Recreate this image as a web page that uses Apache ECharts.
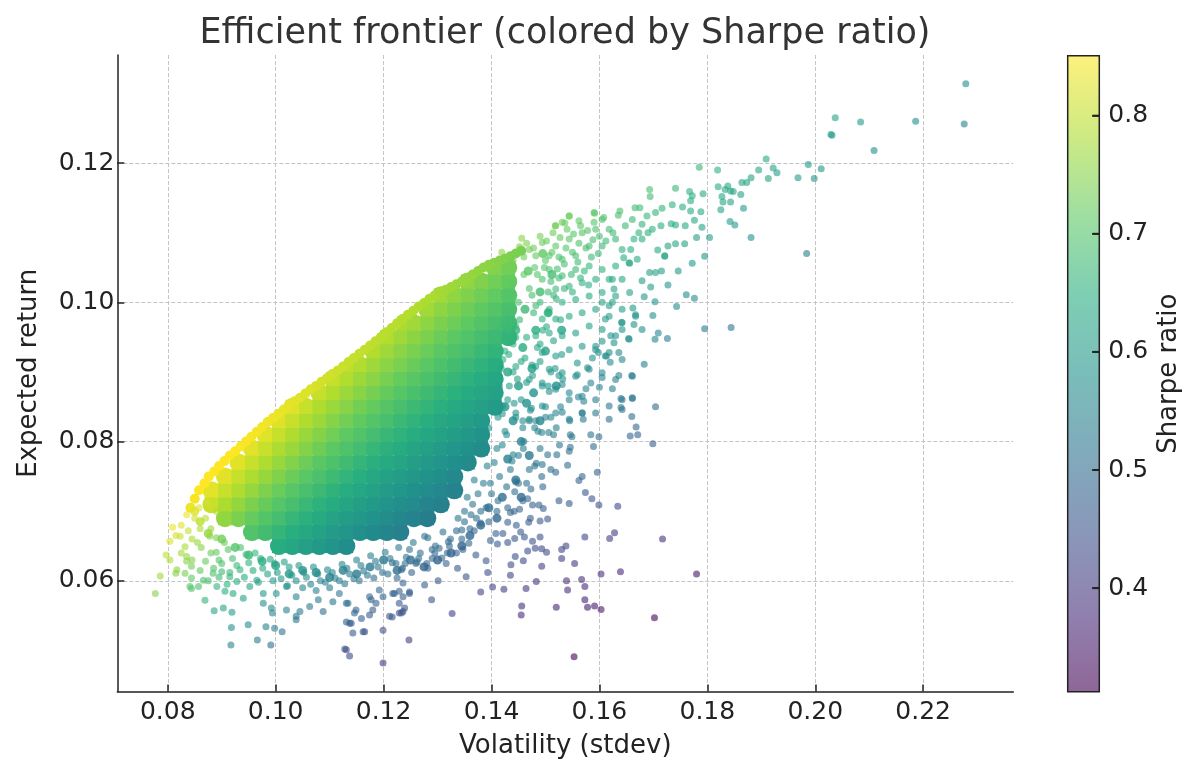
<!DOCTYPE html>
<html lang="en">
<head>
<meta charset="UTF-8">
<title>Efficient frontier</title>
<style>
  html, body { margin: 0; padding: 0; background: #fff; }
  #main { width: 1200px; height: 776px; }
</style>
</head>
<body>
<div id="main"></div>
<script src="https://cdn.jsdelivr.net/npm/echarts@6/dist/echarts.min.js"></script>
<script>
// axis ticks
const volTicks = [0.08, 0.10, 0.12, 0.14, 0.16, 0.18, 0.20, 0.22];
const retTicks = [0.06, 0.08, 0.10, 0.12];
const sharpeTicks = [0.4, 0.5, 0.6, 0.7, 0.8];
const sharpeMin = 0.3123;
const sharpeMax = 0.8508;

// dense core of the cloud: [expected return, [volatility, ...]]
const coreRows = [
  [0.065, [0.1006, 0.1031, 0.1056, 0.1081, 0.1106, 0.1131]],
  [0.067, [0.0956, 0.0981, 0.1006, 0.1031, 0.1056, 0.1081, 0.1106, 0.1131, 0.1156, 0.1181, 0.1206, 0.1231]],
  [0.069, [0.0906, 0.0931, 0.0956, 0.0981, 0.1006, 0.1031, 0.1056, 0.1081, 0.1106, 0.1131, 0.1156, 0.1181, 0.1206, 0.1231, 0.1256, 0.1281]],
  [0.071, [0.0881, 0.0906, 0.0931, 0.0956, 0.0981, 0.1006, 0.1031, 0.1056, 0.1081, 0.1106, 0.1131, 0.1156, 0.1181, 0.1206, 0.1231, 0.1256, 0.1281, 0.1306]],
  [0.073, [0.0881, 0.0906, 0.0931, 0.0956, 0.0981, 0.1006, 0.1031, 0.1056, 0.1081, 0.1106, 0.1131, 0.1156, 0.1181, 0.1206, 0.1231, 0.1256, 0.1281, 0.1306, 0.1331]],
  [0.075, [0.0906, 0.0931, 0.0956, 0.0981, 0.1006, 0.1031, 0.1056, 0.1081, 0.1106, 0.1131, 0.1156, 0.1181, 0.1206, 0.1231, 0.1256, 0.1281, 0.1306, 0.1331]],
  [0.077, [0.0931, 0.0956, 0.0981, 0.1006, 0.1031, 0.1056, 0.1081, 0.1106, 0.1131, 0.1156, 0.1181, 0.1206, 0.1231, 0.1256, 0.1281, 0.1306, 0.1331, 0.1356]],
  [0.079, [0.0956, 0.0981, 0.1006, 0.1031, 0.1056, 0.1081, 0.1106, 0.1131, 0.1156, 0.1181, 0.1206, 0.1231, 0.1256, 0.1281, 0.1306, 0.1331, 0.1356, 0.1381]],
  [0.081, [0.0981, 0.1006, 0.1031, 0.1056, 0.1081, 0.1106, 0.1131, 0.1156, 0.1181, 0.1206, 0.1231, 0.1256, 0.1281, 0.1306, 0.1331, 0.1356, 0.1381]],
  [0.083, [0.1006, 0.1031, 0.1056, 0.1081, 0.1106, 0.1131, 0.1156, 0.1181, 0.1206, 0.1231, 0.1256, 0.1281, 0.1306, 0.1331, 0.1356, 0.1381]],
  [0.085, [0.1031, 0.1056, 0.1081, 0.1106, 0.1131, 0.1156, 0.1181, 0.1206, 0.1231, 0.1256, 0.1281, 0.1306, 0.1331, 0.1356, 0.1381, 0.1406]],
  [0.087, [0.1081, 0.1106, 0.1131, 0.1156, 0.1181, 0.1206, 0.1231, 0.1256, 0.1281, 0.1306, 0.1331, 0.1356, 0.1381, 0.1406]],
  [0.089, [0.1106, 0.1131, 0.1156, 0.1181, 0.1206, 0.1231, 0.1256, 0.1281, 0.1306, 0.1331, 0.1356, 0.1381, 0.1406]],
  [0.091, [0.1141, 0.1156, 0.1181, 0.1206, 0.1231, 0.1256, 0.1281, 0.1306, 0.1331, 0.1356, 0.1381, 0.1406]],
  [0.093, [0.1181, 0.1206, 0.1231, 0.1256, 0.1281, 0.1306, 0.1331, 0.1356, 0.1381, 0.1406]],
  [0.095, [0.1206, 0.1231, 0.1256, 0.1281, 0.1306, 0.1331, 0.1356, 0.1381, 0.1406, 0.1431]],
  [0.097, [0.1238, 0.1256, 0.1281, 0.1306, 0.1331, 0.1356, 0.1381, 0.1406, 0.1431]],
  [0.099, [0.1281, 0.1306, 0.1331, 0.1356, 0.1381, 0.1406, 0.1431]],
  [0.101, [0.1306, 0.1331, 0.1356, 0.1381, 0.1406, 0.1431]],
  [0.103, [0.1356, 0.1381, 0.1406, 0.1431]],
  [0.105, [0.1406, 0.1431]]
];

// upper-left edge of the cloud: [volatility, expected return]
const frontierEdge = [
  [0.0842,0.0705],[0.0850,0.0718],[0.0858,0.0730],[0.0868,0.0740],[0.0876,0.0750],[0.0886,0.0757],
  [0.0895,0.0765],[0.0905,0.0772],[0.0915,0.0780],[0.0925,0.0786],[0.0935,0.0793],[0.0945,0.0800],
  [0.0955,0.0807],[0.0965,0.0814],[0.0975,0.0821],[0.0985,0.0828],[0.0995,0.0834],[0.1005,0.0840],
  [0.1015,0.0846],[0.1025,0.0852],[0.1035,0.0858],[0.1045,0.0863],[0.1055,0.0869],[0.1065,0.0875],
  [0.1075,0.0880],[0.1085,0.0886],[0.1095,0.0891],[0.1105,0.0897],[0.1115,0.0902],[0.1125,0.0908],
  [0.1135,0.0914],[0.1145,0.0920],[0.1155,0.0926],[0.1165,0.0932],[0.1175,0.0938],[0.1185,0.0944],
  [0.1195,0.0950],[0.1205,0.0957],[0.1215,0.0963],[0.1225,0.0970],[0.1235,0.0976],[0.1245,0.0982],
  [0.1255,0.0988],[0.1265,0.0994],[0.1275,0.0999],[0.1285,0.1005],[0.1295,0.1010],[0.1305,0.1014],
  [0.1315,0.1018],[0.1325,0.1022],[0.1335,0.1026],[0.1345,0.1030],[0.1355,0.1035],[0.1365,0.1040],
  [0.1375,0.1045],[0.1385,0.1050],[0.1395,0.1054],[0.1405,0.1057],[0.1415,0.1060],[0.1425,0.1063],
  [0.1435,0.1066],[0.1445,0.1070],[0.1455,0.1074]
];

// half-dense fringe around the core
const fringe = [
  [0.1420,0.0720],[0.1445,0.0745],[0.1430,0.0775],[0.1455,0.0800],[0.1440,0.0830],[0.1465,0.0855],
  [0.1450,0.0880],[0.1475,0.0905],[0.1458,0.0935],[0.1482,0.0960],[0.1462,0.0990],[0.1490,0.1015],
  [0.1468,0.1045],[0.1495,0.1070],[0.1478,0.0870],[0.1490,0.0830],[0.1500,0.0930],[0.1505,0.0985],
  [0.1410,0.0690],[0.1395,0.0705],[0.1380,0.0680],[0.1360,0.0665],[0.1345,0.0650],[0.1325,0.0640],
  [0.1300,0.0630],[0.1275,0.0620],[0.1250,0.0630],[0.1225,0.0615],[0.1200,0.0630],[0.1175,0.0620],
  [0.1150,0.0610],[0.1125,0.0615],[0.1100,0.0605],[0.1075,0.0612],[0.1050,0.0615],[0.1025,0.0610],
  [0.1000,0.0622],[0.0975,0.0628],[0.0950,0.0637],[0.0925,0.0648],[0.0900,0.0660],[0.0875,0.0668],
  [0.0860,0.0685],[0.0850,0.0700],[0.1512,0.1040],[0.1520,0.0880],[0.1530,0.0960],[0.1455,0.0720],
  [0.1470,0.0780],[0.1435,0.1010],[0.1445,0.0960],[0.1430,0.0900],[0.1425,0.0850]
];

// single portfolios, upper-right tail
const upperTail = [
  [0.2279,0.1314],[0.2037,0.1265],[0.2084,0.1259],[0.2186,0.1260],[0.2276,0.1256],[0.2031,0.1240],
  [0.2029,0.1241],[0.2109,0.1218],[0.1909,0.1206],[0.1785,0.1194],[0.1819,0.1190],[0.1987,0.1198],
  [0.2011,0.1192],[0.1922,0.1193],[0.1929,0.1186],[0.1895,0.1190],[0.1913,0.1178],[0.1968,0.1179],
  [0.1998,0.1178],[0.1881,0.1179],[0.1873,0.1172],[0.1864,0.1172],[0.1820,0.1166],[0.1838,0.1167],
  [0.1843,0.1160],[0.1848,0.1159],[0.1833,0.1162],[0.1862,0.1155],[0.1827,0.1152],[0.1829,0.1144],
  [0.1843,0.1144],[0.1825,0.1133],[0.1867,0.1135],[0.1842,0.1116],[0.1851,0.1111],[0.1881,0.1093],
  [0.1984,0.1070],[0.1795,0.1066],[0.1772,0.1056],[0.1804,0.1093],[0.1780,0.1093],[0.1790,0.1108],
  [0.1776,0.1118],[0.1788,0.1130],[0.1769,0.1131],[0.1792,0.1156],[0.1767,0.1159],[0.1772,0.1153],
  [0.1741,0.1164],[0.1758,0.1084],[0.1741,0.1084],[0.1727,0.1025],[0.1761,0.1011],[0.1776,0.1006],
  [0.1743,0.0994],[0.1795,0.0962],[0.1844,0.0964],[0.1709,0.0956],[0.1703,0.0947],[0.1726,0.0948],
  [0.1699,0.0981],[0.1746,0.1045],[0.1721,0.1066],[0.1703,0.1001],[0.1683,0.1008],[0.1695,0.1022],
  [0.1679,0.1031],[0.1715,0.1045],[0.1704,0.1043],[0.1693,0.1043],[0.1662,0.0992],[0.1667,0.0982],
  [0.1664,0.0968],[0.1654,0.0948],[0.1642,0.0971],[0.1636,0.0928],[0.1759,0.1110],[0.1741,0.1111],
  [0.1733,0.1113],[0.1714,0.1110],[0.1754,0.1137],[0.1769,0.1146],[0.1735,0.1140],[0.1716,0.1135],
  [0.1704,0.1129],[0.1693,0.1162],[0.1694,0.1152],[0.1666,0.1136],[0.1675,0.1136],[0.1638,0.1131],
  [0.1635,0.1125],[0.1591,0.1128],[0.1608,0.1122],[0.1544,0.1124],[0.1536,0.1114],[0.1518,0.1110],
  [0.1456,0.1092],[0.1419,0.1072],[0.1624,0.1033],[0.1627,0.1019],[0.1656,0.1014],[0.1605,0.1000],
  [0.1624,0.1000],[0.1611,0.0976],[0.1618,0.0980],[0.1641,0.0971],[0.1642,0.0961],[0.1621,0.0952],
  [0.1627,0.0942],[0.1605,0.0944],[0.1593,0.0937],[0.1611,0.0923],[0.1645,0.1064],[0.1656,0.1056],
  [0.1670,0.1062],[0.1642,0.1076],[0.1658,0.1076],[0.1664,0.1091],[0.1679,0.1091],[0.1673,0.1100],
  [0.1690,0.1100],[0.1698,0.1105],[0.1708,0.1075],[0.1721,0.1067],[0.1727,0.1081],[0.1648,0.1110],
  [0.1661,0.1119],[0.1679,0.1112],[0.1688,0.1124]
];

// single portfolios, right of the core
const rightSpread = [
  [0.1519,0.1110],[0.1544,0.1124],[0.1531,0.1115],[0.1562,0.1117],[0.1590,0.1129],[0.1605,0.1119],
  [0.1618,0.1105],[0.1593,0.1105],[0.1568,0.1100],[0.1544,0.1091],[0.1519,0.1081],[0.1494,0.1086],
  [0.1470,0.1076],[0.1482,0.1067],[0.1507,0.1067],[0.1531,0.1062],[0.1556,0.1067],[0.1581,0.1081],
  [0.1605,0.1081],[0.1630,0.1091],[0.1655,0.1057],[0.1630,0.1052],[0.1605,0.1047],[0.1581,0.1052],
  [0.1556,0.1047],[0.1531,0.1038],[0.1507,0.1047],[0.1494,0.1033],[0.1519,0.1019],[0.1544,0.1023],
  [0.1568,0.1028],[0.1593,0.1033],[0.1618,0.1033],[0.1642,0.1033],[0.1630,0.1009],[0.1605,0.1014],
  [0.1581,0.1009],[0.1556,0.1004],[0.1531,0.1000],[0.1507,0.0990],[0.1482,0.0995],[0.1494,0.0976],
  [0.1519,0.0976],[0.1544,0.0980],[0.1568,0.0985],[0.1593,0.0990],[0.1618,0.0995],[0.1642,0.0990],
  [0.1667,0.0980],[0.1679,0.0961],[0.1655,0.0947],[0.1630,0.0952],[0.1605,0.0961],[0.1581,0.0966],
  [0.1556,0.0956],[0.1531,0.0952],[0.1507,0.0956],[0.1482,0.0952],[0.1494,0.0928],[0.1519,0.0923],
  [0.1544,0.0932],[0.1568,0.0937],[0.1593,0.0932],[0.1618,0.0928],[0.1642,0.0918],[0.1661,0.0894],
  [0.1630,0.0889],[0.1605,0.0899],[0.1581,0.0904],[0.1556,0.0894],[0.1531,0.0899],[0.1507,0.0904],
  [0.1482,0.0908],[0.1470,0.0889],[0.1494,0.0880],[0.1519,0.0875],[0.1544,0.0870],[0.1568,0.0865],
  [0.1593,0.0860],[0.1618,0.0851],[0.1642,0.0860],[0.1661,0.0863],[0.1642,0.0846],[0.1618,0.0832],
  [0.1593,0.0841],[0.1568,0.0841],[0.1544,0.0832],[0.1519,0.0841],[0.1494,0.0851],[0.1470,0.0832],
  [0.1445,0.0841],[0.1421,0.0851],[0.1408,0.0870],[0.1433,0.0880],[0.1445,0.0908],[0.1421,0.0918],
  [0.1408,0.0937],[0.1433,0.0947],[0.1445,0.0966],[0.1421,0.0976],[0.1408,0.0956]
];

// single portfolios, upper band just right of the core
const upperBand = [
  [0.1465,0.1085],[0.1478,0.1078],[0.1490,0.1095],[0.1502,0.1088],[0.1514,0.1100],[0.1527,0.1093],
  [0.1540,0.1105],[0.1552,0.1098],[0.1565,0.1110],[0.1578,0.1103],[0.1590,0.1115],[0.1500,0.1060],
  [0.1512,0.1072],[0.1525,0.1065],[0.1538,0.1078],[0.1550,0.1072],[0.1562,0.1085],[0.1575,0.1078],
  [0.1588,0.1090],[0.1600,0.1095],[0.1485,0.1040],[0.1498,0.1050],[0.1510,0.1030],[0.1522,0.1048],
  [0.1535,0.1055],[0.1548,0.1040],[0.1560,0.1058],[0.1572,0.1045],[0.1585,0.1065],[0.1598,0.1070],
  [0.1475,0.1010],[0.1490,0.1000],[0.1505,0.1015],[0.1520,0.1005],[0.1535,0.1020],[0.1550,0.1015],
  [0.1565,0.1035],[0.1580,0.1025],[0.1612,0.1088],[0.1625,0.1100],[0.1460,0.1065],[0.1452,0.1080]
];

// single portfolios, band right of the core
const rightBand = [
  [0.1415,0.0960],[0.1428,0.0985],[0.1440,0.0940],[0.1452,0.0975],[0.1465,0.0950],[0.1478,0.0985],
  [0.1490,0.0940],[0.1502,0.0965],[0.1515,0.0945],[0.1528,0.0975],[0.1418,0.0905],[0.1432,0.0925],
  [0.1448,0.0890],[0.1462,0.0920],[0.1476,0.0895],[0.1490,0.0915],[0.1505,0.0880],[0.1518,0.0905],
  [0.1532,0.0890],[0.1412,0.0835],[0.1428,0.0810],[0.1442,0.0855],[0.1458,0.0820],[0.1472,0.0845],
  [0.1486,0.0815],[0.1500,0.0835],[0.1515,0.0810],[0.1528,0.0850],[0.1405,0.0770],[0.1420,0.0795],
  [0.1435,0.0760],[0.1450,0.0780],[0.1465,0.0740],[0.1480,0.0765],[0.1495,0.0735],[0.1510,0.0760],
  [0.1398,0.0740],[0.1412,0.0715],[0.1428,0.0735],[0.1442,0.0700],[0.1458,0.0715],[0.1472,0.0690],
  [0.1390,0.0705],[0.1375,0.0725],[0.1362,0.0695],[0.1350,0.0685],[0.1335,0.0672],[0.1368,0.0672]
];

// single portfolios, band under the core
const bottomBand = [
  [0.0880,0.0640],[0.0895,0.0630],[0.0912,0.0645],[0.0928,0.0622],[0.0945,0.0638],[0.0958,0.0615],
  [0.0972,0.0632],[0.0985,0.0610],[0.0998,0.0625],[0.1010,0.0603],[0.1025,0.0620],[0.1038,0.0600],
  [0.1052,0.0612],[0.1065,0.0595],[0.1078,0.0610],[0.1092,0.0598],[0.1105,0.0612],[0.1118,0.0600],
  [0.1132,0.0618],[0.1145,0.0603],[0.1158,0.0622],[0.1170,0.0608],[0.1185,0.0628],[0.1198,0.0612],
  [0.1212,0.0632],[0.1225,0.0604],[0.1240,0.0625],[0.1252,0.0612],[0.1265,0.0632],[0.1280,0.0625],
  [0.1295,0.0640],[0.1308,0.0633],[0.1322,0.0650],[0.1335,0.0640]
];

// single portfolios, lower-right of the core
const lowerSpread = [
  [0.1683,0.0911],[0.1613,0.0923],[0.1620,0.0914],[0.1598,0.0928],[0.1636,0.0895],[0.1660,0.0895],
  [0.1605,0.0892],[0.1624,0.0876],[0.1640,0.0862],[0.1661,0.0862],[0.1640,0.0849],[0.1704,0.0850],
  [0.1660,0.0836],[0.1668,0.0821],[0.1671,0.0810],[0.1657,0.0808],[0.1699,0.0797],[0.1589,0.0793],
  [0.1599,0.0807],[0.1584,0.0810],[0.1596,0.0756],[0.1568,0.0750],[0.1562,0.0744],[0.1574,0.0727],
  [0.1586,0.0718],[0.1599,0.0709],[0.1634,0.0707],[0.1628,0.0669],[0.1619,0.0661],[0.1717,0.0660],
  [0.1639,0.0613],[0.1603,0.0610],[0.1780,0.0610],[0.1702,0.0547],[0.1553,0.0491],[0.1591,0.0564],
  [0.1603,0.0559],[0.1578,0.0562],[0.1573,0.0573],[0.1567,0.0602],[0.1573,0.0592],[0.1539,0.0600],
  [0.1541,0.0587],[0.1554,0.0625],[0.1520,0.0562],[0.1456,0.0564],[0.1455,0.0551],[0.1464,0.0589],
  [0.1483,0.0599],[0.1423,0.0588],[0.1402,0.0591],[0.1380,0.0584],[0.1327,0.0553],[0.1289,0.0573],
  [0.1247,0.0515],[0.1530,0.0632],[0.1530,0.0645],[0.1538,0.0650],[0.1493,0.0621],[0.1502,0.0641],
  [0.1493,0.0646],[0.1481,0.0647],[0.1459,0.0629],[0.1444,0.0635],[0.1436,0.0623],[0.1435,0.0608],
  [0.1467,0.0643],[0.1476,0.0657],[0.1490,0.0663],[0.1573,0.0663],[0.1461,0.0663],[0.1443,0.0661],
  [0.1430,0.0655],[0.1411,0.0653],[0.1398,0.0658],[0.1408,0.0668],[0.1421,0.0668],[0.1454,0.0670],
  [0.1446,0.0680],[0.1430,0.0684],[0.1469,0.0684],[0.1490,0.0686],[0.1504,0.0689],[0.1476,0.0709],
  [0.1488,0.0709],[0.1496,0.0704],[0.1452,0.0703],[0.1435,0.0698],[0.1525,0.0715],[0.1544,0.0711],
  [0.1467,0.0718],[0.1473,0.0732],[0.1443,0.0728],[0.1445,0.0742],[0.1493,0.0750],[0.1519,0.0756],
  [0.1541,0.0766],[0.1504,0.0781],[0.1521,0.0781],[0.1494,0.0767],[0.1483,0.0769],[0.1459,0.0790],
  [0.1440,0.0781],[0.1546,0.0792],[0.1544,0.0786],[0.1526,0.0795],[0.1506,0.0813],[0.1493,0.0813],
  [0.1546,0.0810],[0.1549,0.0807],[0.1510,0.0835],[0.1531,0.0842],[0.1545,0.0830],[0.1568,0.0841],
  [0.1570,0.0832],[0.1559,0.0896],[0.1575,0.0876],[0.1584,0.0884],[0.1600,0.0878],[0.1571,0.0858],
  [0.1561,0.0864],[0.1544,0.0860],[0.1525,0.0895],[0.1559,0.0913],[0.1578,0.0906],[0.1587,0.0920],
  [0.1494,0.0884],[0.1507,0.0872],[0.1531,0.0882],[0.1474,0.0848],[0.1482,0.0830],[0.1470,0.0830],
  [0.1458,0.0830],[0.1345,0.0673],[0.1380,0.0683],[0.1358,0.0654],[0.1320,0.0656],[0.1303,0.0647],
  [0.1290,0.0645],[0.1276,0.0664],[0.1248,0.0645],[0.1223,0.0625],[0.1233,0.0616],[0.1282,0.0618],
  [0.1316,0.0625],[0.1337,0.0618],[0.1353,0.0606],[0.1371,0.0637],[0.1390,0.0629],[0.1393,0.0612],
  [0.1347,0.0645],[0.1260,0.0625],[0.1236,0.0597],[0.1248,0.0584],[0.1229,0.0585],[0.1276,0.0594],
  [0.1301,0.0600],[0.1233,0.0554],[0.1239,0.0561]
];

// single portfolios, lower-left tail and bottom
const lowerTail = [
  [0.0777,0.0582],[0.0786,0.0607],[0.0797,0.0637],[0.0804,0.0630],[0.0809,0.0677],[0.0815,0.0611],
  [0.0835,0.0628],[0.0832,0.0649],[0.0844,0.0589],[0.0869,0.0572],[0.0886,0.0557],[0.0903,0.0561],
  [0.0919,0.0555],[0.0918,0.0533],[0.0917,0.0508],[0.0949,0.0537],[0.0966,0.0515],[0.0982,0.0534],
  [0.0991,0.0508],[0.0998,0.0532],[0.1012,0.0527],[0.0994,0.0554],[0.1038,0.0544],[0.1128,0.0502],
  [0.1137,0.0492],[0.1199,0.0482],[0.1199,0.0529],[0.1162,0.0527],[0.1143,0.0525],[0.1137,0.0539],
  [0.1134,0.0568],[0.1146,0.0554],[0.1174,0.0551],[0.1216,0.0548],[0.1229,0.0554],[0.1248,0.0582],
  [0.1220,0.0582],[0.1192,0.0587],[0.1177,0.0573],[0.1180,0.0558],[0.0804,0.0657],[0.0835,0.0695],
  [0.0823,0.0664],[0.0835,0.0635],[0.0844,0.0621],[0.0817,0.0616],[0.0832,0.0611],[0.0844,0.0604],
  [0.0866,0.0601],[0.0857,0.0592],[0.0841,0.0592],[0.0992,0.0561],[0.0977,0.0568],[0.0940,0.0575],
  [0.0921,0.0582],[0.0906,0.0585],[0.0891,0.0592],[0.0884,0.0611],[0.0900,0.0613],[0.0915,0.0606],
  [0.0928,0.0599],[0.0934,0.0616],[0.0952,0.0592],[0.0965,0.0601],[0.0977,0.0582],[0.1001,0.0582],
  [0.1020,0.0592],[0.1038,0.0577],[0.1020,0.0558],[0.1045,0.0556],[0.1038,0.0549],[0.1063,0.0563],
  [0.1079,0.0573],[0.1088,0.0556],[0.1106,0.0570],[0.1118,0.0582],[0.1131,0.0568],[0.1149,0.0558],
  [0.1140,0.0539],[0.1159,0.0546],[0.1131,0.0541],[0.1165,0.0527],[0.1174,0.0577],[0.1186,0.0568],
  [0.1199,0.0577],[0.1217,0.0582],[0.1236,0.0577],[0.1229,0.0568],[0.1211,0.0549],[0.1236,0.0556],
  [0.1131,0.0501]
];

// speckle just outside the core
const speckle = [
  [0.0845,0.0660],[0.0862,0.0648],[0.0878,0.0664],[0.0890,0.0641],[0.0905,0.0655],[0.0920,0.0632],
  [0.0935,0.0648],[0.0950,0.0626],[0.0962,0.0640],[0.0976,0.0618],[0.0990,0.0631],[0.1003,0.0612],
  [0.1016,0.0627],[0.1030,0.0608],[0.1043,0.0622],[0.1057,0.0605],[0.1070,0.0620],[0.1083,0.0600],
  [0.1096,0.0616],[0.1110,0.0604],[0.1123,0.0624],[0.1137,0.0610],[0.1150,0.0630],[0.1163,0.0614],
  [0.1176,0.0636],[0.1190,0.0620],[0.1203,0.0641],[0.1216,0.0626],[0.1228,0.0648],[0.1242,0.0634],
  [0.1255,0.0655],[0.1268,0.0640],[0.1282,0.0662],[0.1296,0.0650],[0.1310,0.0670],[0.1324,0.0660],
  [0.1338,0.0690],[0.1350,0.0700],[0.0870,0.0628],[0.0885,0.0618],[0.0900,0.0625],[0.0915,0.0612],
  [0.0942,0.0605],[0.0968,0.0598],[0.0995,0.0600],[0.1022,0.0593],[0.1050,0.0590],[0.1075,0.0586],
  [0.1100,0.0590],[0.1128,0.0596],[0.1155,0.0600],[0.1182,0.0604],[0.1208,0.0610],[0.1235,0.0618],
  [0.1262,0.0627],[0.1290,0.0632],[0.1318,0.0640],[0.1345,0.0660],[0.1360,0.0675],
  [0.1355,0.0720],[0.1368,0.0745],[0.1380,0.0700],[0.1392,0.0765],[0.1400,0.0725],[0.1410,0.0790],
  [0.1415,0.0750],[0.1425,0.0815],[0.1430,0.0705],[0.1438,0.0772],[0.1445,0.0835],[0.1450,0.0740],
  [0.1455,0.0860],[0.1460,0.0800],[0.1465,0.0885],[0.1470,0.0760],[0.1475,0.0910],[0.1480,0.0820],
  [0.1485,0.0935],[0.1490,0.0790],[0.1495,0.0960],[0.1500,0.0850],[0.1505,0.0985],[0.1510,0.0900],
  [0.1515,0.1010],[0.1520,0.0820],[0.1525,0.1035],[0.1530,0.0925],[0.1450,0.1000],[0.1460,0.1040],
  [0.1440,0.1060],[0.1470,0.1020],[0.1480,0.1050],[0.1435,0.0990],[0.1445,0.0950],[0.1455,0.0915],
  [0.1440,0.0900],[0.1430,0.0860],[0.1420,0.0840],[0.1395,0.0820],[0.1405,0.0850],[0.1415,0.0880],
  [0.1425,0.0930],[0.1430,0.0960],[0.1438,0.1025],[0.1385,0.0740],[0.1372,0.0690],[0.1395,0.0685],
  [0.1410,0.0700],[0.1365,0.0710],
  [0.0815,0.0665],[0.0825,0.0680],[0.0838,0.0672],[0.0850,0.0690],[0.0860,0.0675],[0.0855,0.0655],
  [0.0870,0.0690],[0.0880,0.0675],[0.0890,0.0662],[0.0825,0.0640],[0.0845,0.0630],[0.0860,0.0615],
  [0.0875,0.0600],[0.0895,0.0605],[0.0910,0.0595],[0.0858,0.0705],[0.0872,0.0712],[0.0890,0.0700],
  [0.0905,0.0685]
];

const viridis = ['#440154', '#472d7b', '#3b528b', '#2c728e', '#21918c', '#28ae80', '#5ec962', '#addc30', '#fde725'];

function fade(hex, a) {
  const n = parseInt(hex.slice(1), 16);
  return 'rgba(' + (n >> 16) + ',' + ((n >> 8) & 255) + ',' + (n & 255) + ',' + a + ')';
}

// third value = Sharpe ratio (return / volatility)
function withSharpe(pts) {
  return pts.map(p => [p[0], p[1], p[1] / p[0]]);
}

const corePts = [];
coreRows.forEach(r => r[1].forEach(v => corePts.push([v, r[0]])));

const singles = [].concat(upperTail, rightSpread, upperBand, rightBand, bottomBand, lowerSpread, lowerTail, speckle);

// colour bar fill, high values at the top
const barStops = viridis.slice().reverse().map((c, i, arr) => ({offset: i / (arr.length - 1), color: fade(c, 0.6)}));

const font = 'DejaVu Sans';
const ink = '#222';

const chart = echarts.init(document.getElementById('main'), null, {renderer: 'canvas'});

const scatterBase = {
  type: 'scatter',
  silent: true,
  animation: false
};

const option = {
  backgroundColor: '#fff',
  animation: false,
  title: {
    text: 'Efficient frontier (colored by Sharpe ratio)',
    left: 565,
    top: 16,
    padding: 0,
    textAlign: 'center',
    textStyle: {fontFamily: font, fontSize: 35, fontWeight: 'normal', color: '#333'}
  },
  grid: [
    {left: 117.3, right: 186.7, top: 55, bottom: 84.5, outerBoundsMode: 'none'},
    {left: 1067.7, width: 31.6, top: 55.7, height: 636, show: true, z: 10,
      backgroundColor: 'transparent', borderColor: ink, borderWidth: 1.5, outerBoundsMode: 'none'}
  ],
  xAxis: [
    {
      type: 'value',
      gridIndex: 0,
      min: 0.07065,
      max: 0.2367,
      name: 'Volatility (stdev)',
      nameLocation: 'middle',
      nameGap: 42,
      nameTextStyle: {fontFamily: font, fontSize: 26, color: ink},
      axisLine: {show: true, onZero: false, lineStyle: {color: ink, width: 1.5}},
      axisTick: {show: true, inside: true, length: 7, customValues: volTicks, lineStyle: {color: ink, width: 1.5}},
      axisLabel: {customValues: volTicks, margin: 8, fontFamily: font, fontSize: 25, color: ink,
        formatter: v => v.toFixed(2)},
      splitLine: {show: true, lineStyle: {color: '#c4c4c4', width: 1, type: [4, 2]}}
    },
    {type: 'value', gridIndex: 1, min: 0, max: 1, show: false, axisLine: {onZero: false}}
  ],
  yAxis: [
    {
      type: 'value',
      gridIndex: 0,
      min: 0.04411,
      max: 0.13552,
      name: 'Expected return',
      nameLocation: 'middle',
      nameGap: 75,
      nameRotate: 90,
      nameTextStyle: {fontFamily: font, fontSize: 26, color: ink},
      axisLine: {show: true, onZero: false, lineStyle: {color: ink, width: 1.5}},
      axisTick: {show: true, inside: true, length: 7, customValues: retTicks, lineStyle: {color: ink, width: 1.5}},
      axisLabel: {customValues: retTicks, margin: 3, fontFamily: font, fontSize: 25, color: ink,
        formatter: v => v.toFixed(2)},
      splitLine: {show: true, lineStyle: {color: '#c4c4c4', width: 1, type: [4, 2]}}
    },
    {
      type: 'value',
      gridIndex: 1,
      position: 'right',
      z: 3,
      min: sharpeMin,
      max: sharpeMax,
      name: 'Sharpe ratio',
      nameLocation: 'middle',
      nameGap: 57,
      nameRotate: 90,
      nameTextStyle: {fontFamily: font, fontSize: 26, color: ink},
      axisLine: {show: false, onZero: false},
      axisTick: {show: true, inside: true, length: 7, customValues: sharpeTicks, lineStyle: {color: ink, width: 1.5}},
      axisLabel: {customValues: sharpeTicks, margin: 9, fontFamily: font, fontSize: 25, color: ink,
        formatter: v => v.toFixed(1)},
      splitLine: {show: false}
    }
  ],
  visualMap: [
    {
      type: 'continuous',
      show: false,
      seriesIndex: [0, 1, 2, 3],
      dimension: 2,
      min: sharpeMin,
      max: sharpeMax,
      inRange: {color: viridis}
    },
    {
      type: 'continuous',
      show: false,
      seriesIndex: [4],
      dimension: 2,
      min: sharpeMin,
      max: sharpeMax,
      inRange: {color: viridis.map(c => fade(c, 0.6))}
    }
  ],
  series: [
    Object.assign({}, scatterBase, {name: 'core edge', data: withSharpe(corePts), symbol: 'circle', symbolSize: 18, itemStyle: {opacity: 1}}),
    Object.assign({}, scatterBase, {name: 'core', data: withSharpe(corePts), symbol: 'rect', symbolSize: [13.7, 14.1], itemStyle: {opacity: 1}}),
    Object.assign({}, scatterBase, {name: 'frontier', data: withSharpe(frontierEdge), symbol: 'circle', symbolSize: 10, itemStyle: {opacity: 1}}),
    Object.assign({}, scatterBase, {name: 'fringe', data: withSharpe(fringe), symbol: 'circle', symbolSize: 9, itemStyle: {opacity: 0.8}}),
    Object.assign({}, scatterBase, {name: 'portfolios', data: withSharpe(singles), symbol: 'circle', symbolSize: 7, itemStyle: {opacity: 1}}),
    // colour bar: one tall box spanning the Sharpe axis, kept under the ticks
    Object.assign({}, scatterBase, {
      name: 'colorbar',
      xAxisIndex: 1,
      yAxisIndex: 1,
      clip: false,
      z: 0,
      data: [[0.5, (sharpeMin + sharpeMax) / 2]],
      symbol: 'rect',
      symbolSize: [31.6, 636],
      itemStyle: {
        opacity: 1,
        color: {type: 'linear', x: 0, y: 0, x2: 0, y2: 1, colorStops: barStops}
      }
    }),
    // colour bar tick marks, just inside the bar's right edge
    Object.assign({}, scatterBase, {
      name: 'colorbar ticks',
      xAxisIndex: 1,
      yAxisIndex: 1,
      clip: false,
      z: 20,
      data: sharpeTicks.map(v => [0.89, v]),
      symbol: 'rect',
      symbolSize: [7, 2],
      itemStyle: {color: ink, opacity: 1}
    })
  ]
};

chart.setOption(option);
</script>
</body>
</html>
